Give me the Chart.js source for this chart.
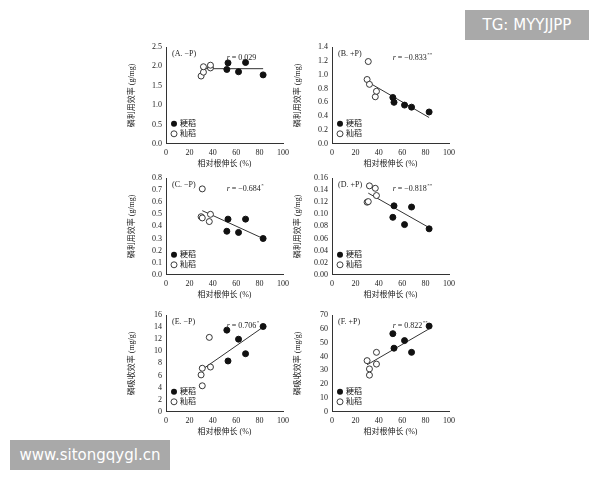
<!DOCTYPE html>
<html>
<head>
<meta charset="utf-8">
<script src="https://cdn.jsdelivr.net/npm/chart.js@4"></script>
<style>
  body { margin: 0; background: #fff; width: 600px; height: 480px; position: relative; overflow: hidden; }
  .pan { position: absolute; width: 165px; height: 130px; }
  .tag { position: absolute; background: #a9a9a9; color: #fff; font-family: "DejaVu Sans", sans-serif; }
</style>
</head>
<body>
<div class="pan" style="left:125px;top:40px"><canvas id="cA"></canvas></div>
<div class="pan" style="left:291px;top:40px"><canvas id="cB"></canvas></div>
<div class="pan" style="left:125px;top:171px"><canvas id="cC"></canvas></div>
<div class="pan" style="left:291px;top:171px"><canvas id="cD"></canvas></div>
<div class="pan" style="left:125px;top:308px"><canvas id="cE"></canvas></div>
<div class="pan" style="left:291px;top:308px"><canvas id="cF"></canvas></div>
<div class="tag" style="left:465px;top:10px;width:124px;height:30px;line-height:30px;text-align:center;font-size:15px">TG: MYYJJPP</div>
<div class="tag" style="left:10px;top:440px;width:160px;height:30px;line-height:30px;text-align:center;font-size:15px">www.sitongqygl.cn</div>
<script>
// x = 相对根伸长 (%), y = efficiency; japonica (粳稻, filled) / indica (籼稻, open)
var japX = {
    A: [53, 52, 62, 68, 83], B: [52, 53, 62, 68, 83], C: [53, 52, 62, 68, 83],
    D: [53, 52, 62, 68, 83], E: [52, 53, 62, 68, 83], F: [52, 53, 62, 68, 83]
};
var japY = {
    A: [2.09, 1.92, 1.86, 2.10, 1.78], B: [0.67, 0.60, 0.56, 0.53, 0.46],
    C: [0.46, 0.36, 0.35, 0.46, 0.30], D: [0.114, 0.095, 0.083, 0.112, 0.076],
    E: [13.5, 8.4, 12.0, 9.6, 14.1], F: [56.5, 46, 51.5, 43, 62]
};
var indX = {
    A: [30, 32, 32, 38, 38], B: [30, 31, 32, 37, 38], C: [31, 30, 31, 37, 38],
    D: [32, 37, 38, 30, 31], E: [37, 38, 31, 30, 31], F: [30, 38, 38, 32, 32]
};
var indY = {
    A: [1.75, 1.85, 1.99, 1.96, 2.03], B: [0.93, 1.19, 0.86, 0.68, 0.76],
    C: [0.71, 0.48, 0.47, 0.44, 0.50], D: [0.147, 0.143, 0.131, 0.120, 0.121],
    E: [12.3, 7.4, 7.2, 6.1, 4.3], F: [37, 43, 34.5, 31, 26.5]
};
var fitX = { A: [30, 83], B: [30, 83], C: [31, 83], D: [31, 83], E: [31, 83], F: [30, 83] };
var fitY = { A: [1.94, 1.94], B: [0.90, 0.38], C: [0.53, 0.30], D: [0.135, 0.078], E: [7.0, 14.0], F: [34, 60] };
var yMax = { A: 2.5, B: 1.4, C: 0.8, D: 0.16, E: 16, F: 70 };
var yStep = { A: 0.5, B: 0.2, C: 0.1, D: 0.02, E: 2, F: 10 };
var yDec = { A: 1, B: 1, C: 1, D: 2, E: 0, F: 0 };
var panelLabel = { A: '(A. \u2212P)', B: '(B. +P)', C: '(C. \u2212P)', D: '(D. +P)', E: '(E. \u2212P)', F: '(F. +P)' };
var rText = { A: ['0.029', ''], B: ['\u22120.833', '**'], C: ['\u22120.684', '*'], D: ['\u22120.818', '**'], E: ['0.706', '*'], F: ['0.822', '**'] };
var yTitle = { A: '磷利用效率 (g/mg)', B: '磷利用效率 (g/mg)', C: '磷利用效率 (g/mg)', D: '磷利用效率 (g/mg)', E: '磷吸收效率 (mg/g)', F: '磷吸收效率 (mg/g)' };

var serif = '"Liberation Serif", "Noto Sans CJK SC", serif';

function pts(xs, ys) {
    return xs.map(function (x, i) { return { x: x, y: ys[i] }; });
}

var notes = {
    id: 'notes',
    afterDraw: function (chart) {
        var k = chart.options.plugins.notes.key;
        var ctx = chart.ctx, a = chart.chartArea;
        ctx.save();
        ctx.fillStyle = '#222';
        ctx.font = '8px ' + serif;
        ctx.textBaseline = 'middle';
        ctx.fillText(panelLabel[k], a.left + 6, a.top + 7);
        var tx = a.left + (a.right - a.left) * 0.52, ty = a.top + 11;
        ctx.font = 'italic 8px ' + serif;
        ctx.fillText('r', tx, ty);
        ctx.font = '8px ' + serif;
        var s = ' = ' + rText[k][0];
        ctx.fillText(s, tx + 3, ty);
        var w = ctx.measureText(s).width;
        ctx.font = '5px ' + serif;
        ctx.fillText(rText[k][1], tx + 3 + w + 0.5, ty - 3);
        // legend
        var lx = a.left + 8, ly = a.bottom - 20;
        ctx.font = '8px ' + serif;
        ctx.beginPath(); ctx.arc(lx, ly, 3, 0, Math.PI * 2); ctx.fillStyle = '#111'; ctx.fill();
        ctx.fillText('粳稻', lx + 6, ly);
        ctx.beginPath(); ctx.arc(lx, ly + 10, 3, 0, Math.PI * 2); ctx.fillStyle = '#fff'; ctx.fill();
        ctx.strokeStyle = '#111'; ctx.lineWidth = 0.8; ctx.stroke();
        ctx.fillStyle = '#222';
        ctx.fillText('籼稻', lx + 6, ly + 10);
        ctx.restore();
    }
};

['A', 'B', 'C', 'D', 'E', 'F'].forEach(function (k) {
    new Chart(document.getElementById('c' + k), {
        type: 'scatter',
        data: {
            datasets: [{
                data: pts(japX[k], japY[k]), pointRadius: 3, pointBackgroundColor: '#111', pointBorderColor: '#111'
            }, {
                data: pts(indX[k], indY[k]), pointRadius: 3, pointBackgroundColor: '#fff', pointBorderColor: '#222', pointBorderWidth: 0.9
            }, {
                type: 'line', data: pts(fitX[k], fitY[k]), borderColor: '#333', borderWidth: 1, pointRadius: 0
            }]
        },
        options: {
            responsive: true,
            maintainAspectRatio: false,
            animation: false,
            layout: { padding: { left: 2, right: 7, top: 7, bottom: 0 } },
            plugins: { legend: { display: false }, tooltip: { enabled: false }, notes: { key: k } },
            scales: {
                x: {
                    min: 0, max: 100,
                    ticks: { stepSize: 20, font: { size: 8, family: serif }, color: '#222', padding: 1, autoSkip: false, maxRotation: 0 },
                    grid: { display: false, drawTicks: true, tickLength: 3 },
                    border: { color: '#333' },
                    title: { display: true, text: '相对根伸长 (%)', font: { size: 8, family: serif }, color: '#222', padding: 1 }
                },
                y: {
                    min: 0, max: yMax[k],
                    afterFit: function (s) { s.width = 39; },
                    ticks: {
                        stepSize: yStep[k], font: { size: 8, family: serif }, color: '#222', padding: 1, autoSkip: false,
                        callback: function (v) { return v.toFixed(yDec[k]); }
                    },
                    grid: { display: false, tickLength: 3 },
                    border: { color: '#333' },
                    title: { display: true, text: yTitle[k], font: { size: 8, family: serif }, color: '#222', padding: 0 }
                }
            }
        },
        plugins: [notes]
    });
});
</script>
</body>
</html>
